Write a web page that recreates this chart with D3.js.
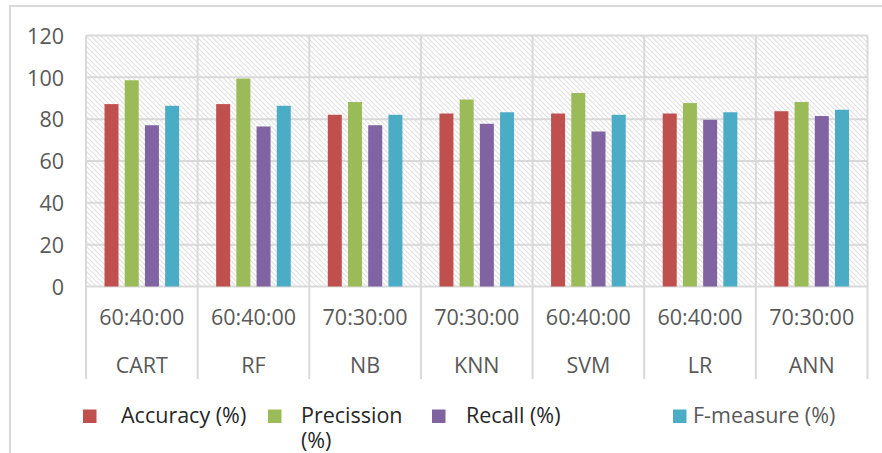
<!DOCTYPE html>
<html>
<head>
<meta charset="utf-8">
<script src="https://cdn.jsdelivr.net/npm/d3@7/dist/d3.min.js"></script>
<style>
  html, body { margin: 0; padding: 0; background: #fff; }
  svg { display: block; }
  text { font-family: "Open Sans", "Noto Sans", sans-serif; }
</style>
</head>
<body>
<svg id="chart" width="882" height="453"></svg>
<script>
// Classifier names and their train:test split labels
const models = ["CART", "RF", "NB", "KNN", "SVM", "LR", "ANN"];
const splits = ["60:40:00", "60:40:00", "70:30:00", "70:30:00", "60:40:00", "60:40:00", "70:30:00"];

// Metric series (percent)
const seriesNames = ["Accuracy (%)", "Precission (%)", "Recall (%)", "F-measure (%)"];
const accuracy  = [87.2, 87.2, 82.1, 82.7, 82.7, 82.7, 83.8];
const precision = [98.6, 99.4, 88.2, 89.4, 92.5, 87.7, 88.2];
const recall    = [77.1, 76.5, 77.1, 77.8, 74.1, 79.7, 81.5];
const fmeasure  = [86.4, 86.4, 82.1, 83.3, 82.1, 83.3, 84.5];
const yTicks = [0, 20, 40, 60, 80, 100, 120];

const colors = ["#c0504d", "#9bbb59", "#8064a2", "#4bacc6"];
const seriesValues = [accuracy, precision, recall, fmeasure];

const svg = d3.select("#chart");
const gridColor = "#d9d9d9";
const fontSize = "21.5px";

// Plot area
const plot = { left: 86, right: 867.5, top: 35.5, bottom: 286.5 };
const axisBottom = 379;

// Outer frame (only top and left edges fall inside the view)
svg.append("path")
  .attr("d", "M10,460 L10,6 L890,6")
  .attr("fill", "none")
  .attr("stroke", gridColor)
  .attr("stroke-width", 2);

// Diagonal hatch fill for the plot background
const defs = svg.append("defs");
const pat = defs.append("pattern")
  .attr("id", "hatch")
  .attr("patternUnits", "userSpaceOnUse")
  .attr("width", 5).attr("height", 5);
pat.append("rect").attr("width", 5).attr("height", 5).attr("fill", "#fff");
pat.append("path")
  .attr("d", "M-1,-1 L6,6 M-1,4 L1,6 M4,-1 L6,1")
  .attr("stroke", "#e0e0e0")
  .attr("stroke-width", 1.1);

svg.append("rect")
  .attr("x", plot.left).attr("y", plot.top)
  .attr("width", plot.right - plot.left)
  .attr("height", plot.bottom - plot.top)
  .attr("fill", "url(#hatch)");

// Scales
const x = d3.scaleBand()
  .domain(models)
  .range([plot.left, plot.right])
  .paddingInner(0).paddingOuter(0);

const xInner = d3.scaleBand()
  .domain(d3.range(seriesNames.length))
  .range([0, x.bandwidth()])
  .paddingInner(0.307)
  .paddingOuter(0.916);

const y = d3.scaleLinear()
  .domain([0, 120])
  .range([plot.bottom, plot.top]);

// Horizontal gridlines
svg.append("g")
  .selectAll("line")
  .data(yTicks)
  .join("line")
  .attr("x1", plot.left).attr("x2", plot.right)
  .attr("y1", d => y(d)).attr("y2", d => y(d))
  .attr("stroke", gridColor)
  .attr("stroke-width", 2);

// Vertical group separators, extending through the category labels
const seps = models.map(m => x(m)).concat([plot.right]);
svg.append("g")
  .selectAll("line")
  .data(seps)
  .join("line")
  .attr("x1", d => d).attr("x2", d => d)
  .attr("y1", plot.top).attr("y2", axisBottom)
  .attr("stroke", gridColor)
  .attr("stroke-width", 2);

// Y axis labels
const yAxis = d3.axisLeft(y).tickValues(yTicks).tickSize(0).tickPadding(0);
const yG = svg.append("g")
  .attr("transform", `translate(${plot.left - 22},0)`)
  .call(yAxis);
yG.select(".domain").remove();
yG.selectAll("text")
  .attr("fill", "#595959")
  .style("font-size", fontSize)
  .attr("dy", "0.36em");

// Bars
const groups = svg.append("g")
  .selectAll("g")
  .data(models)
  .join("g")
  .attr("transform", d => `translate(${x(d)},0)`);

groups.selectAll("rect")
  .data((m, i) => seriesValues.map((vals, s) => ({ s, v: vals[i] })))
  .join("rect")
  .attr("x", d => xInner(d.s))
  .attr("width", xInner.bandwidth())
  .attr("y", d => y(d.v))
  .attr("height", d => y(0) - y(d.v))
  .attr("fill", d => colors[d.s]);

// Two-level category labels
const catG = svg.append("g");
catG.selectAll("text.split")
  .data(models)
  .join("text")
  .attr("class", "split")
  .attr("x", d => x(d) + x.bandwidth() / 2)
  .attr("y", 325)
  .attr("text-anchor", "middle")
  .attr("fill", "#595959")
  .style("font-size", fontSize)
  .text((d, i) => splits[i]);

catG.selectAll("text.model")
  .data(models)
  .join("text")
  .attr("class", "model")
  .attr("x", d => x(d) + x.bandwidth() / 2)
  .attr("y", 373)
  .attr("text-anchor", "middle")
  .attr("fill", "#595959")
  .style("font-size", fontSize)
  .text(d => d);

// Legend (the precision entry wraps onto a second line)
const legendItems = [
  { sq: 83,  tx: 121, lines: ["Accuracy (%)"], fill: "#262626" },
  { sq: 268, tx: 301, lines: ["Precission", "(%)"], fill: "#262626" },
  { sq: 432, tx: 466, lines: ["Recall (%)"], fill: "#262626" },
  { sq: 673, tx: 693, lines: ["F-measure (%)"], fill: "#595959" }
];
const leg = svg.append("g");
legendItems.forEach((it, i) => {
  leg.append("rect")
    .attr("x", it.sq).attr("y", 409.5)
    .attr("width", 13.5).attr("height", 13.5)
    .attr("fill", colors[i]);
  it.lines.forEach((ln, j) => {
    leg.append("text")
      .attr("x", it.tx)
      .attr("y", 423 + j * 25)
      .attr("fill", it.fill)
      .style("font-size", fontSize)
      .text(ln);
  });
});
</script>
</body>
</html>
